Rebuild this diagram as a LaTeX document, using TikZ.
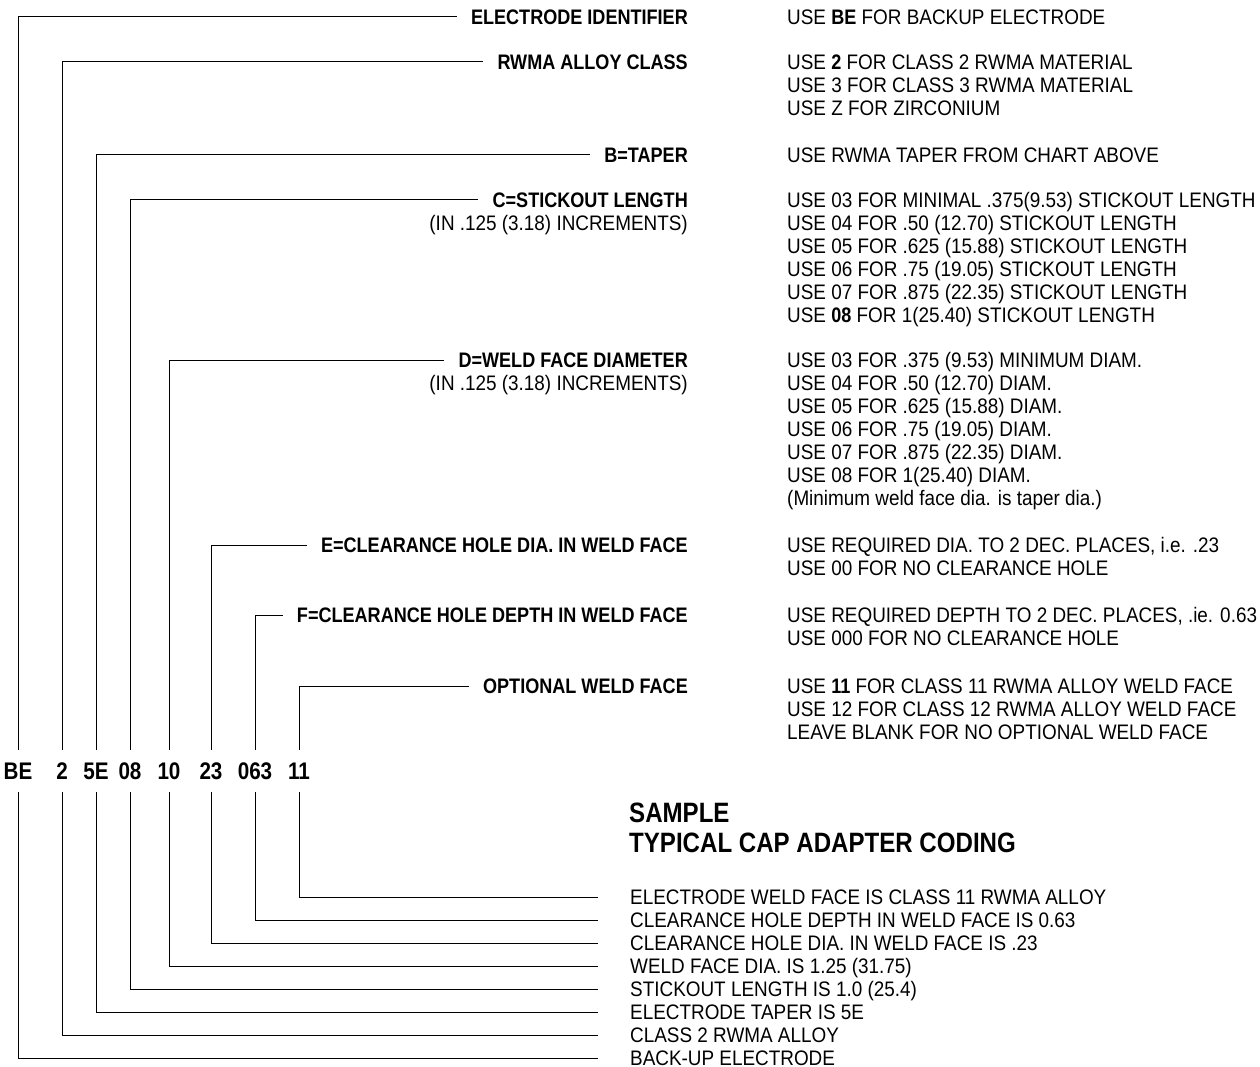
\documentclass[tikz,border=0pt]{standalone}
\usepackage{fontspec}
\setmainfont{Liberation Sans}[FakeStretch=0.9, BoldFeatures={FakeStretch=0.86}]
\usetikzlibrary{positioning}
\newcommand\txtsize{\fontsize{21pt}{23pt}\selectfont}
\newcommand\titlesize{\fontsize{28pt}{30pt}\selectfont}

\begin{document}
\begin{tikzpicture}[x=1pt, y=-1pt,
      lead/.style={line width=1pt},
      code/.style={font=\fontsize{24pt}{24pt}\selectfont\bfseries, inner sep=0pt,
                   text height=17pt, text depth=0pt, minimum height=42pt},
      key/.style={font=\txtsize\bfseries, inner sep=0pt, text height=15pt,
                  text depth=0pt, anchor=east},
      hint/.style={font=\txtsize, inner sep=0pt, anchor=base east},
      use/.style={font=\txtsize, inner sep=0pt, align=left, anchor=base west},
      samp/.style={font=\txtsize, inner sep=0pt, text height=15pt,
                   text depth=0pt, anchor=west}]

    \useasboundingbox (0,0) rectangle (1260,1067);

    % code row
    \node[code] (cBE)  at (18, 771)  {BE};
    \node[code] (c2)   at (62, 771)  {2};
    \node[code] (c5E)  at (96, 771)  {5E};
    \node[code] (c08)  at (130, 771) {08};
    \node[code] (c10)  at (169, 771) {10};
    \node[code] (c23)  at (211, 771) {23};
    \node[code] (c063) at (255, 771) {063};
    \node[code] (c11)  at (299, 771) {11};

    % field names
    \node[key] (kID)  at (688, 17)  {ELECTRODE IDENTIFIER};
    \node[key] (kCls) at (688, 62)  {RWMA ALLOY CLASS};
    \node[key] (kB)   at (688, 155) {B=TAPER};
    \node[key] (kC)   at (688, 200) {C=STICKOUT LENGTH};
    \node[hint] at ([yshift=-23pt]kC.south east) {(IN .125 (3.18) INCREMENTS)};
    \node[key] (kD)   at (688, 360) {D=WELD FACE DIAMETER};
    \node[hint] at ([yshift=-23pt]kD.south east) {(IN .125 (3.18) INCREMENTS)};
    \node[key] (kE)   at (688, 545) {E=CLEARANCE HOLE DIA. IN WELD FACE};
    \node[key] (kF)   at (688, 615) {F=CLEARANCE HOLE DEPTH IN WELD FACE};
    \node[key] (kOpt) at (688, 686) {OPTIONAL WELD FACE};

    % what to use (placed by the baseline of the last line)
    \node[use] (uID)  at (787, 24.5)  {USE \textbf{BE} FOR BACKUP ELECTRODE};
    \node[use] (uCls) at (787, 115.5) {USE \textbf{2} FOR CLASS 2 RWMA MATERIAL\\
      USE 3 FOR CLASS 3 RWMA MATERIAL\\USE Z FOR ZIRCONIUM};
    \node[use] (uB)   at (787, 162.5) {USE RWMA TAPER FROM CHART ABOVE};
    \node[use] (uC)   at (787, 322.5) {USE 03 FOR MINIMAL .375(9.53) STICKOUT LENGTH\\
      USE 04 FOR .50 (12.70) STICKOUT LENGTH\\USE 05 FOR .625 (15.88) STICKOUT LENGTH\\
      USE 06 FOR .75 (19.05) STICKOUT LENGTH\\USE 07 FOR .875 (22.35) STICKOUT LENGTH\\
      USE \textbf{08} FOR 1(25.40) STICKOUT LENGTH};
    \node[use] (uD)   at (787, 505.5) {USE 03 FOR .375 (9.53) MINIMUM DIAM.\\
      USE 04 FOR .50 (12.70) DIAM.\\USE 05 FOR .625 (15.88) DIAM.\\
      USE 06 FOR .75 (19.05) DIAM.\\USE 07 FOR .875 (22.35) DIAM.\\
      USE 08 FOR 1(25.40) DIAM.\\(Minimum weld face dia. is taper dia.)};
    \node[use] (uE)   at (787, 575.5) {USE REQUIRED DIA. TO 2 DEC. PLACES, i.e. .23\\
      USE 00 FOR NO CLEARANCE HOLE};
    \node[use] (uF)   at (787, 645.5) {USE REQUIRED DEPTH TO 2 DEC. PLACES, .ie. 0.63\\
      USE 000 FOR NO CLEARANCE HOLE};
    \node[use] (uOpt) at (787, 739.5) {USE \textbf{11} FOR CLASS 11 RWMA ALLOY WELD FACE\\
      USE 12 FOR CLASS 12 RWMA ALLOY WELD FACE\\LEAVE BLANK FOR NO OPTIONAL WELD FACE};

    % sample
    \node[use, font=\titlesize\bfseries] (title) at (629, 852)
      {SAMPLE\\TYPICAL CAP ADAPTER CODING};
    \node[samp] (s11)  at (630, 897)  {ELECTRODE WELD FACE IS CLASS 11 RWMA ALLOY};
    \node[samp] (s063) at (630, 920)  {CLEARANCE HOLE DEPTH IN WELD FACE IS 0.63};
    \node[samp] (s23)  at (630, 943)  {CLEARANCE HOLE DIA. IN WELD FACE IS .23};
    \node[samp] (s10)  at (630, 966)  {WELD FACE DIA. IS 1.25 (31.75)};
    \node[samp] (s08)  at (630, 989)  {STICKOUT LENGTH IS 1.0 (25.4)};
    \node[samp] (s5E)  at (630, 1012) {ELECTRODE TAPER IS 5E};
    \node[samp] (s2)   at (630, 1035) {CLASS 2 RWMA ALLOY};
    \node[samp] (sBE)  at (630, 1058) {BACK-UP ELECTRODE};

    % leaders up to the field names
    \draw[lead, shorten >=14pt] (cBE.north)  |- (kID.west);
    \draw[lead, shorten >=14pt] (c2.north)   |- (kCls.west);
    \draw[lead, shorten >=14pt] (c5E.north)  |- (kB.west);
    \draw[lead, shorten >=14pt] (c08.north)  |- (kC.west);
    \draw[lead, shorten >=14pt] (c10.north)  |- (kD.west);
    \draw[lead, shorten >=14pt] (c23.north)  |- (kE.west);
    \draw[lead, shorten >=14pt] (c063.north) |- (kF.west);
    \draw[lead, shorten >=14pt] (c11.north)  |- (kOpt.west);

    % leaders down to the sample lines
    \draw[lead, shorten >=32pt] (c11.south)  |- (s11.west);
    \draw[lead, shorten >=32pt] (c063.south) |- (s063.west);
    \draw[lead, shorten >=32pt] (c23.south)  |- (s23.west);
    \draw[lead, shorten >=32pt] (c10.south)  |- (s10.west);
    \draw[lead, shorten >=32pt] (c08.south)  |- (s08.west);
    \draw[lead, shorten >=32pt] (c5E.south)  |- (s5E.west);
    \draw[lead, shorten >=32pt] (c2.south)   |- (s2.west);
    \draw[lead, shorten >=32pt] (cBE.south)  |- (sBE.west);
\end{tikzpicture}
\end{document}
